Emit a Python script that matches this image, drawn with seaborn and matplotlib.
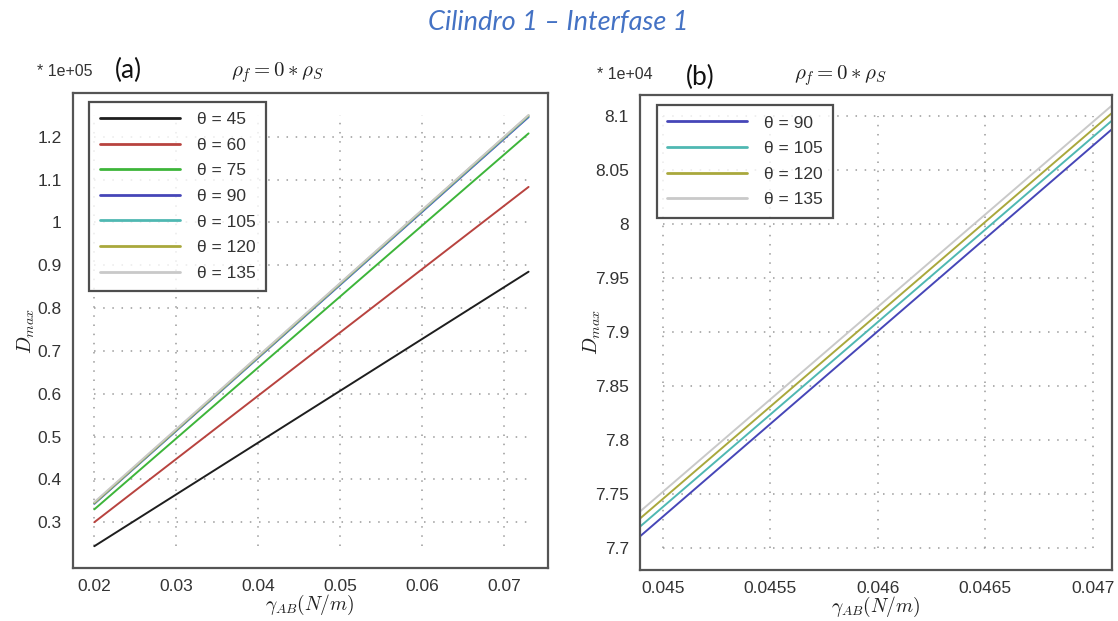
import numpy as np
import pandas as pd
import matplotlib
matplotlib.use("Agg")
import matplotlib.pyplot as plt
import seaborn as sns
from matplotlib.ticker import FuncFormatter

# ---- data -------------------------------------------------------------
# panel (a): D_max (units of 1e5) at the two ends of gamma_AB
gamma_a = [0.020, 0.073]
theta_a = [45, 60, 75, 90, 105, 120, 135]
dmax_a_45 = [0.244, 0.885]
dmax_a_60 = [0.300, 1.083]
dmax_a_75 = [0.330, 1.208]
dmax_a_90 = [0.343, 1.246]
dmax_a_105 = [0.344, 1.248]
dmax_a_120 = [0.345, 1.250]
dmax_a_135 = [0.347, 1.251]

# panel (b): zoom on theta >= 90 (units of 1e4)
gamma_b = [0.04489, 0.04709]
theta_b = [90, 105, 120, 135]
dmax_b_90 = [7.710, 8.088]
dmax_b_105 = [7.719, 8.096]
dmax_b_120 = [7.7265, 8.103]
dmax_b_135 = [7.733, 8.110]

xticks_a = [0.02, 0.03, 0.04, 0.05, 0.06, 0.07]
yticks_a = [0.3, 0.4, 0.5, 0.6, 0.7, 0.8, 0.9, 1.0, 1.1, 1.2]
xticks_b = [0.045, 0.0455, 0.046, 0.0465, 0.047]
yticks_b = [7.7, 7.75, 7.8, 7.85, 7.9, 7.95, 8.0, 8.05, 8.1]

colors = {45: "#1e1e1e", 60: "#b8433f", 75: "#3db53a", 90: "#4646b8",
          105: "#4fb8b2", 120: "#a9a83c", 135: "#c9c9c9"}

series_a = [dmax_a_45, dmax_a_60, dmax_a_75, dmax_a_90, dmax_a_105, dmax_a_120, dmax_a_135]
series_b = [dmax_b_90, dmax_b_105, dmax_b_120, dmax_b_135]


def long_frame(gamma, thetas, series):
    rows = []
    for th, vals in zip(thetas, series):
        for g, v in zip(gamma, vals):
            rows.append({"gamma": g, "D": v, "theta": f"θ = {th}"})
    return pd.DataFrame(rows)


df_a = long_frame(gamma_a, theta_a, series_a)
df_b = long_frame(gamma_b, theta_b, series_b)

# ---- style ------------------------------------------------------------
sns.set_theme(style="white")
plt.rcParams["font.family"] = ["Liberation Sans", "DejaVu Sans"]
plt.rcParams["mathtext.fontset"] = "cm"

fig = plt.figure(figsize=(11.18, 6.21), dpi=100)
ax_a = fig.add_axes([0.065, 0.085, 0.425, 0.765])
ax_b = fig.add_axes([0.5725, 0.082, 0.422, 0.765])

tick_color = "#333333"
fmt = FuncFormatter(lambda v, p: f"{v:g}")


def draw_panel(ax, df, thetas, xticks, yticks, xlim, ylim, gx, gy, legend_anchor, ylabelpad):
    pal = {f"θ = {t}": colors[t] for t in thetas}
    sns.lineplot(data=df, x="gamma", y="D", hue="theta", palette=pal,
                 hue_order=[f"θ = {t}" for t in thetas], lw=1.4, ax=ax,
                 estimator=None, sort=False)
    ax.set_xlim(*xlim)
    ax.set_ylim(*ylim)
    ax.set_xticks(xticks)
    ax.set_yticks(yticks)
    ax.xaxis.set_major_formatter(fmt)
    ax.yaxis.set_major_formatter(fmt)
    ax.tick_params(axis="both", length=0, pad=8, labelsize=12.5, labelcolor=tick_color)
    # dotted grid spanning only the plotted range
    ax.hlines(yticks, gx[0], gx[1], colors="#9a9a9a", linestyles=(0, (1, 5)), lw=1.1, zorder=0)
    ax.vlines(xticks, gy[0], gy[1], colors="#9a9a9a", linestyles=(0, (1, 5)), lw=1.1, zorder=0)
    for s in ax.spines.values():
        s.set_color("#555555")
        s.set_linewidth(1.6)
    ax.set_xlabel(r"$\gamma_{AB}(N/m)$", fontsize=14, color="#222222", labelpad=-1)
    ax.set_ylabel(r"$D_{max}$", fontsize=14.5, color="#222222", labelpad=ylabelpad)
    leg = ax.legend(loc="upper left", bbox_to_anchor=legend_anchor, frameon=True,
                    fancybox=False, edgecolor="#222222", fontsize=12.5,
                    handlelength=4.6, handletextpad=1.0, labelspacing=0.6,
                    borderpad=0.6, borderaxespad=0.0)
    leg.get_frame().set_linewidth(1.6)
    for line in leg.get_lines():
        line.set_linewidth(2.0)
    for t in leg.get_texts():
        t.set_color(tick_color)


draw_panel(ax_a, df_a, theta_a, xticks_a, yticks_a,
           (0.01736, 0.07535), (0.1926, 1.302),
           (0.020, 0.073), (0.244, 1.251), (0.035, 0.982), 0)
draw_panel(ax_b, df_b, theta_b, xticks_b, yticks_b,
           (0.044895, 0.047088), (7.6796, 8.1194),
           (0.045, 0.047), (7.7, 8.1), (0.035, 0.979), -6)

# exponent markers, panel tags and density ratios above each panel
fig.text(0.058, 0.885, "* 1e+05", fontsize=11.5, color="#333333", va="center", ha="center")
fig.text(0.1145, 0.887, "(a)", fontsize=19, color="#111111", va="center", ha="center",
         family=["Lato", "DejaVu Sans"])
fig.text(0.248, 0.883, r"$\rho_f = 0 * \rho_S$", fontsize=15, color="#222222", va="center", ha="center")

fig.text(0.5585, 0.880, "* 1e+04", fontsize=11.5, color="#333333", va="center", ha="center")
fig.text(0.6265, 0.876, "(b)", fontsize=19, color="#111111", va="center", ha="center",
         family=["Lato", "DejaVu Sans"])
fig.text(0.752, 0.878, r"$\rho_f = 0 * \rho_S$", fontsize=15, color="#222222", va="center", ha="center")

fig.text(0.4995, 0.963, "Cilindro 1 – Interfase 1", fontsize=19.5, style="italic",
         color="#4472c4", va="center", ha="center", family=["Lato", "DejaVu Sans"])

fig.savefig("out.png", dpi=100)
